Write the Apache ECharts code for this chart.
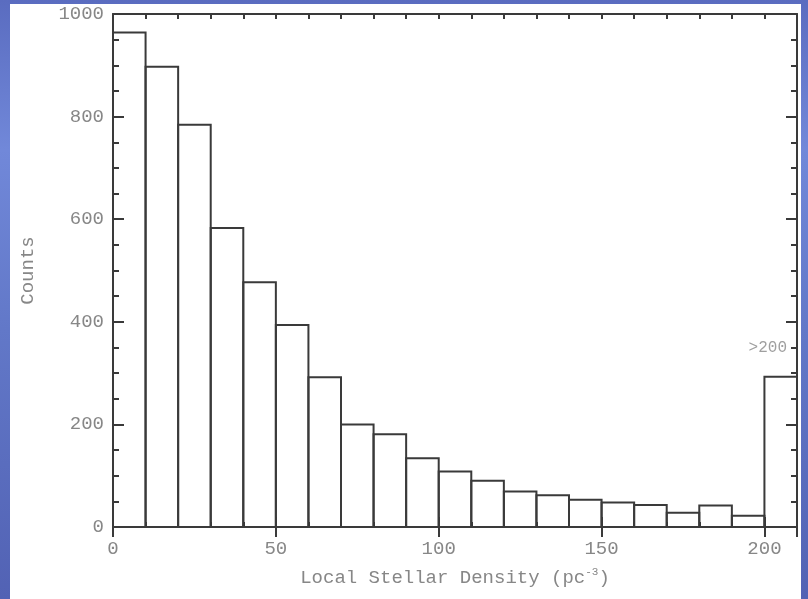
<!DOCTYPE html>
<html>
<head>
<meta charset="utf-8">
<script src="https://cdn.jsdelivr.net/npm/echarts@6/dist/echarts.min.js"></script>
<style>
  html, body { margin: 0; padding: 0; }
  body {
    width: 808px; height: 599px; overflow: hidden; position: relative;
    background: linear-gradient(180deg, #5a6cc0 0%, #7188d9 25%, #6278c8 55%, #5262b4 100%);
  }
  #panel { position: absolute; left: 10px; top: 4px; width: 791px; height: 595px; background: #ffffff; }
  #chart { position: absolute; left: 0; top: 0; width: 808px; height: 599px; }
</style>
</head>
<body>
<div id="panel"></div>
<div id="chart"></div>
<script>
// Histogram bins (lower edge, upper edge) and counts
const binStarts = [0, 10, 20, 30, 40, 50, 60, 70, 80, 90, 100, 110, 120, 130, 140, 150, 160, 170, 180, 190, 200];
const binWidth = 10;
const counts = [964, 897, 784, 583, 477, 394, 292, 200, 181, 134, 108, 90, 69, 62, 53, 48, 43, 28, 42, 22, 293];
const xTickLabels = [0, 50, 100, 150, 200];
const yTickLabels = [0, 200, 400, 600, 800, 1000];
const overflowLabel = '>200';
const overflowLabelPos = [210, 350];

const font = 'Liberation Mono';
const textColor = '#878787';
const lineColor = '#3a3a3a';

const histData = binStarts.map((s, i) => [s, s + binWidth, counts[i]]);

const baseX = {
  type: 'value', min: 0, max: 210, gridIndex: 0,
  splitLine: { show: false },
  axisLine: { show: true, onZero: false, lineStyle: { color: lineColor, width: 2 } },
  axisLabel: { show: false },
};
const baseY = {
  type: 'value', min: 0, max: 1000, interval: 200, gridIndex: 0,
  splitLine: { show: false },
  axisLine: { show: true, onZero: false, lineStyle: { color: lineColor, width: 2 } },
  axisTick: { show: true, inside: true, length: 11, lineStyle: { color: lineColor, width: 2 } },
  minorTick: { show: true, splitNumber: 4, length: 6, lineStyle: { color: lineColor, width: 2 } },
};

const option = {
  animation: false,
  backgroundColor: 'transparent',
  grid: { left: 113, right: 11, top: 14, bottom: 72, containLabel: false },
  xAxis: [
    Object.assign({}, baseX, {
      position: 'bottom', interval: 10,
      axisTick: { show: true, inside: true, length: 5, lineStyle: { color: lineColor, width: 2 } },
      axisLabel: {
        show: true, margin: 12, color: textColor, fontFamily: font, fontSize: 19,
        formatter: v => (xTickLabels.indexOf(v) >= 0 ? String(v) : '')
      },
      name: 'Local Stellar Density (pc{sup|-3})',
      nameLocation: 'middle', nameGap: 40,
      nameTextStyle: {
        color: textColor, fontFamily: font, fontSize: 19,
        rich: { sup: { color: textColor, fontFamily: font, fontSize: 11, verticalAlign: 'top', padding: [0, 0, 10, 0] } }
      }
    }),
    Object.assign({}, baseX, {
      position: 'bottom', interval: 50,
      axisLine: { show: false },
      axisTick: { show: true, inside: true, length: 10, lineStyle: { color: lineColor, width: 2 } }
    }),
    Object.assign({}, baseX, {
      position: 'top', interval: 10,
      axisTick: { show: true, inside: true, length: 5, lineStyle: { color: lineColor, width: 2 } }
    }),
    Object.assign({}, baseX, {
      position: 'top', interval: 50,
      axisLine: { show: false },
      axisTick: { show: true, inside: true, length: 10, lineStyle: { color: lineColor, width: 2 } }
    })
  ],
  yAxis: [
    Object.assign({}, baseY, {
      position: 'left',
      axisLabel: {
        show: true, margin: 9, color: textColor, fontFamily: font, fontSize: 19,
        formatter: v => (yTickLabels.indexOf(v) >= 0 ? String(v) : '')
      },
      name: 'Counts', nameLocation: 'middle', nameGap: 76, nameRotate: 90,
      nameTextStyle: { color: textColor, fontFamily: font, fontSize: 19 }
    }),
    Object.assign({}, baseY, {
      position: 'right',
      axisLabel: { show: false }
    })
  ],
  series: [
    {
      type: 'custom',
      xAxisIndex: 0, yAxisIndex: 0,
      data: histData,
      renderItem: function (params, api) {
        const x0 = api.value(0), x1 = api.value(1), c = api.value(2);
        const p0 = api.coord([x0, c]);
        const p1 = api.coord([x1, 0]);
        return {
          type: 'rect',
          shape: { x: p0[0], y: p0[1], width: p1[0] - p0[0], height: p1[1] - p0[1] },
          style: { fill: 'none', stroke: lineColor, lineWidth: 2 }
        };
      },
      z: 1
    },
    {
      type: 'scatter',
      xAxisIndex: 0, yAxisIndex: 0,
      symbolSize: 0,
      data: [overflowLabelPos],
      label: {
        show: true, position: 'left', distance: 10,
        formatter: overflowLabel,
        color: textColor, fontFamily: font, fontSize: 16
      },
      silent: true,
      z: 5
    }
  ]
};

const chart = echarts.init(document.getElementById('chart'), null, { renderer: 'canvas' });
chart.setOption(option);
</script>
</body>
</html>
